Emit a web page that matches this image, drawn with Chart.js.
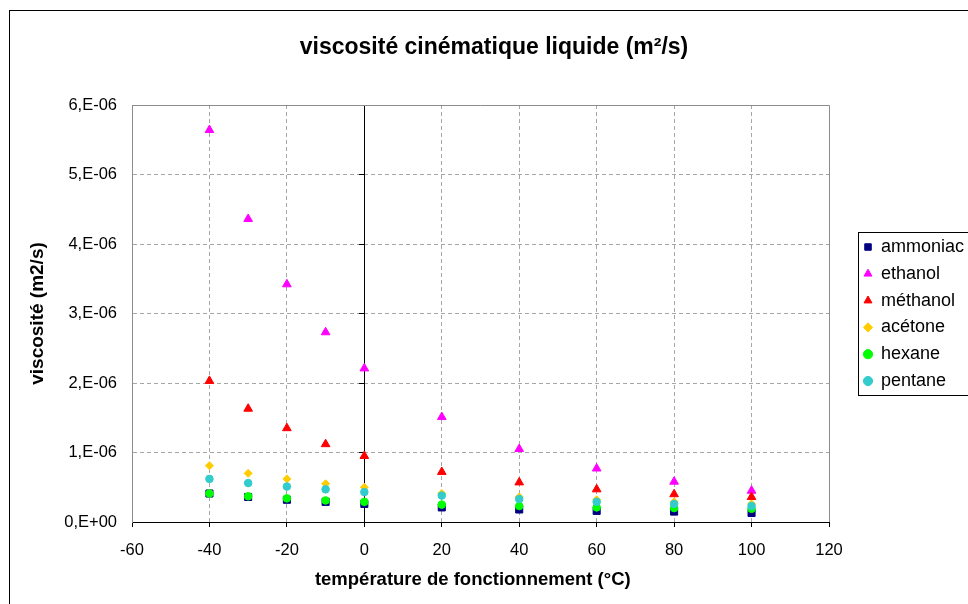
<!DOCTYPE html>
<html><head><meta charset="utf-8">
<script src="https://cdn.jsdelivr.net/npm/chart.js@4/dist/chart.umd.min.js"></script>
<style>html,body{margin:0;padding:0;background:#fff;overflow:hidden}canvas{display:block}</style>
</head><body>
<canvas id="c" width="968" height="604"></canvas>
<script>
const temperatures = [-40, -30, -20, -10, 0, 20, 40, 60, 80, 100];
const ammoniac = [0.41e-6, 0.36e-6, 0.32e-6, 0.29e-6, 0.26e-6, 0.21e-6, 0.18e-6, 0.16e-6, 0.15e-6, 0.13e-6];
const ethanol  = [5.64e-6, 4.36e-6, 3.42e-6, 2.73e-6, 2.21e-6, 1.51e-6, 1.05e-6, 0.77e-6, 0.58e-6, 0.45e-6];
const methanol = [2.03e-6, 1.63e-6, 1.35e-6, 1.12e-6, 0.95e-6, 0.72e-6, 0.57e-6, 0.47e-6, 0.40e-6, 0.36e-6];
const acetone  = [0.81e-6, 0.70e-6, 0.62e-6, 0.55e-6, 0.50e-6, 0.41e-6, 0.36e-6, 0.32e-6, 0.29e-6, 0.26e-6];
const hexane   = [0.41e-6, 0.37e-6, 0.34e-6, 0.31e-6, 0.29e-6, 0.25e-6, 0.23e-6, 0.21e-6, 0.20e-6, 0.19e-6];
const pentane  = [0.62e-6, 0.56e-6, 0.51e-6, 0.47e-6, 0.43e-6, 0.38e-6, 0.33e-6, 0.29e-6, 0.26e-6, 0.23e-6];
const seriesNames = ['ammoniac', 'ethanol', 'méthanol', 'acétone', 'hexane', 'pentane'];
const yTickLabels = ['0,E+00', '1,E-06', '2,E-06', '3,E-06', '4,E-06', '5,E-06', '6,E-06'];
const xMin = -60, xMax = 120, xStep = 20;
const yMin = 0, yMax = 6e-6, yStep = 1e-6;

const FONT = '"Liberation Sans", Arial, Helvetica, sans-serif';
Chart.defaults.font.family = FONT;
Chart.defaults.color = '#000';

function pts(arr) { return temperatures.map((t, i) => ({x: t, y: arr[i]})); }

const styles = [
  {data: ammoniac, color: '#000080', shape: 'rect', r: 5, order: 6},
  {data: ethanol,  color: '#FF00FF', shape: 'triangle', r: 5, order: 5},
  {data: methanol, color: '#FF0000', shape: 'triangle', r: 5, order: 4},
  {data: acetone,  color: '#FFCC00', shape: 'rectRot', r: 4, order: 3},
  {data: hexane,   color: '#00FF00', shape: 'circle', r: 3.8, order: 2},
  {data: pentane,  color: '#33CCCC', shape: 'circle', r: 3.8, order: 1}
];

const datasets = styles.map((s, i) => ({
  label: seriesNames[i],
  data: pts(s.data),
  backgroundColor: s.color,
  borderColor: s.color,
  borderWidth: 1,
  pointStyle: s.shape,
  pointRadius: s.r,
  pointHoverRadius: s.r,
  showLine: false,
  order: s.order
}));

const GRID = '#a6a6a6';
const framePlugin = {
  id: 'frame',
  afterLayout(chart) {
    const lg = chart.legend;
    if (lg) {
      lg.left = 855.2; lg.top = 229.2; lg.right = 968; lg.bottom = 440;
      lg.width = lg.right - lg.left; lg.height = lg.bottom - lg.top;
    }
    const tb = chart.titleBlock;
    if (tb) { tb.left = 0; tb.right = 988; tb.width = 988; }
  },
  beforeDatasetsDraw(chart) {
    const {ctx, chartArea: a} = chart;
    ctx.save();
    ctx.strokeStyle = '#8c8c8c'; ctx.lineWidth = 1;
    ctx.beginPath();
    ctx.moveTo(a.left, Math.round(a.top) + 0.5);
    ctx.lineTo(Math.round(a.right) + 0.5, Math.round(a.top) + 0.5);
    ctx.lineTo(Math.round(a.right) + 0.5, a.bottom);
    ctx.stroke();
    ctx.restore();
  },
  afterDraw(chart) {
    const ctx = chart.ctx;
    ctx.save();
    ctx.strokeStyle = '#000'; ctx.lineWidth = 1;
    ctx.strokeRect(9.5, 10.5, 1000, 700);
    ctx.strokeRect(858.5, 232.5, 200, 163);
    ctx.restore();
  }
};

new Chart(document.getElementById('c'), {
  type: 'scatter',
  data: {datasets},
  options: {
    responsive: false,
    animation: false,
    devicePixelRatio: 1,
    layout: {padding: {left: 0, top: 0, right: 139, bottom: 0}},
    plugins: {
      title: {
        display: true,
        text: 'viscosité cinématique liquide (m²/s)',
        font: {size: 23, weight: 'bold', family: FONT},
        color: '#000',
        padding: {top: 34.2, bottom: 43.2}
      },
      legend: {
        display: true,
        position: 'chartArea',
        align: 'start',
        labels: {
          usePointStyle: true,
          boxWidth: 8,
          boxHeight: 6.5,
          padding: 8.8,
          color: '#000',
          font: {size: 18, family: FONT},
          sort: (a, b) => a.datasetIndex - b.datasetIndex
        }
      },
      tooltip: {enabled: false}
    },
    scales: {
      x: {
        type: 'linear', position: 'bottom',
        min: xMin, max: xMax,
        afterFit: s => { s.height = 82; },
        ticks: {stepSize: xStep, color: '#000', padding: 13.1, font: {size: 16.5, family: FONT}},
        grid: {
          drawTicks: true, tickLength: 5, tickColor: '#000',
          color: c => (c.tick && (c.tick.value === xMin || c.tick.value === 0 || c.tick.value === xMax)) ? 'rgba(0,0,0,0)' : GRID
        },
        border: {color: '#000', width: 1, dash: [4, 3]},
        title: {display: true, text: 'température de fonctionnement (°C)   ', color: '#000',
          font: {size: 18.5, weight: 'bold', family: FONT}, padding: {top: 0, bottom: 12.8}}
      },
      y: {
        type: 'linear', position: 'left',
        min: yMin, max: yMax,
        afterFit: s => { s.width = 132; },
        ticks: {stepSize: yStep, color: '#000', padding: 15, font: {size: 16.5, family: FONT},
          callback: (v, i) => yTickLabels[i]},
        grid: {
          drawTicks: false,
          color: c => (c.index === 0 || c.index === yTickLabels.length - 1) ? 'rgba(0,0,0,0)' : GRID
        },
        border: {color: '#8c8c8c', width: 1, dash: [4, 3]},
        title: {display: true, text: 'viscosité (m2/s)', color: '#000',
          font: {size: 19, weight: 'bold', family: FONT}, padding: {top: 26.6, bottom: 0}}
      },
      y2: {
        type: 'linear', position: {x: 0},
        min: yMin, max: yMax,
        ticks: {stepSize: yStep, display: false},
        grid: {drawOnChartArea: false, drawTicks: true, tickLength: 5, tickColor: '#000'},
        border: {color: '#000', width: 1}
      }
    }
  },
  plugins: [framePlugin]
});
</script>
</body></html>
